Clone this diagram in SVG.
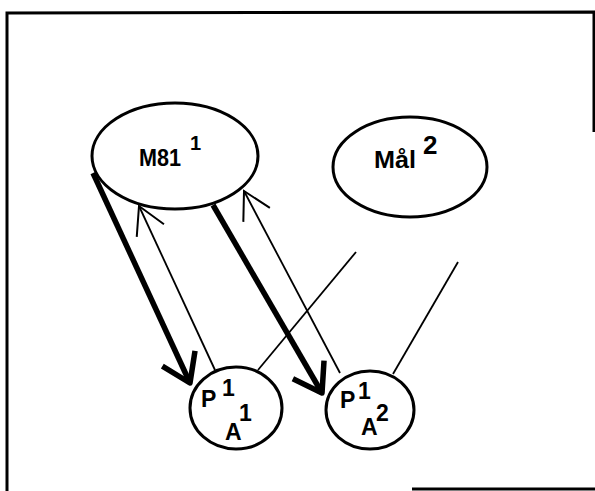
<svg xmlns="http://www.w3.org/2000/svg" width="595" height="491" viewBox="0 0 595 491">
<style>
.shape{fill:#fff;stroke:#000;stroke-width:3}
.frame{fill:none;stroke:#000;stroke-width:3}
.thick{fill:none;stroke:#000;stroke-width:5.5;stroke-linejoin:round}
.thin{fill:none;stroke:#000;stroke-width:1.8}
.lbl{font-family:"Liberation Sans",Arial,sans-serif;fill:#000;font-weight:bold}
</style>
<defs>
<marker id="headThick" markerUnits="userSpaceOnUse" viewBox="-32 -22 38 44" markerWidth="38" markerHeight="44" refX="0" refY="0" orient="auto">
<path d="M-27,-18 L0,0 L-27,18" fill="none" stroke="#000" stroke-width="5.5" stroke-linejoin="round"/>
</marker>
<marker id="headThin" markerUnits="userSpaceOnUse" viewBox="-32 -20 38 40" markerWidth="38" markerHeight="40" refX="0" refY="0" orient="auto">
<path d="M-27,-15 L0,0 L-27,15" fill="none" stroke="#000" stroke-width="2"/>
</marker>
</defs>
<rect width="595" height="491" fill="#fff"/>
<g id="frame">
<path class="frame" d="M7,491 L7,13 L594,12 L594,132"/>
<path class="frame" d="M412,489 L595,489"/>
</g>
<g id="connectors">
<path class="thick" d="M93,173 L190,383" marker-end="url(#headThick)"/>
<path class="thick" d="M213,205 L322,393" marker-end="url(#headThick)"/>
<path class="thin" d="M215,370 L139,206" marker-end="url(#headThin)"/>
<path class="thin" d="M340,373 L244,191" marker-end="url(#headThin)"/>
<path class="thin" d="M258,370 L356,252"/>
<path class="thin" d="M393,374 L458,262"/>
</g>
<g id="mal1">
<ellipse class="shape" cx="175" cy="156" rx="83" ry="53"/>
<text class="lbl" x="139" y="166" font-size="24" textLength="42" lengthAdjust="spacingAndGlyphs">M81</text>
<text class="lbl" x="190" y="150" font-size="20">1</text>
</g>
<g id="mal2">
<ellipse class="shape" cx="410" cy="167" rx="77" ry="50"/>
<text class="lbl" x="374" y="168" font-size="24" textLength="42" lengthAdjust="spacingAndGlyphs">Mål</text>
<text class="lbl" x="423" y="154" font-size="26">2</text>
</g>
<g id="p1a1">
<ellipse class="shape" cx="236" cy="408" rx="46" ry="41"/>
<text class="lbl" x="201" y="407" font-size="23">P</text>
<text class="lbl" x="222" y="396" font-size="23">1</text>
<text class="lbl" x="225" y="440" font-size="23">A</text>
<text class="lbl" x="239" y="421" font-size="23">1</text>
</g>
<g id="p1a2">
<ellipse class="shape" cx="370" cy="410" rx="44" ry="39"/>
<text class="lbl" x="340" y="408" font-size="23">P</text>
<text class="lbl" x="358" y="399" font-size="23">1</text>
<text class="lbl" x="361" y="435" font-size="23">A</text>
<text class="lbl" x="376" y="421" font-size="23">2</text>
</g>
</svg>
